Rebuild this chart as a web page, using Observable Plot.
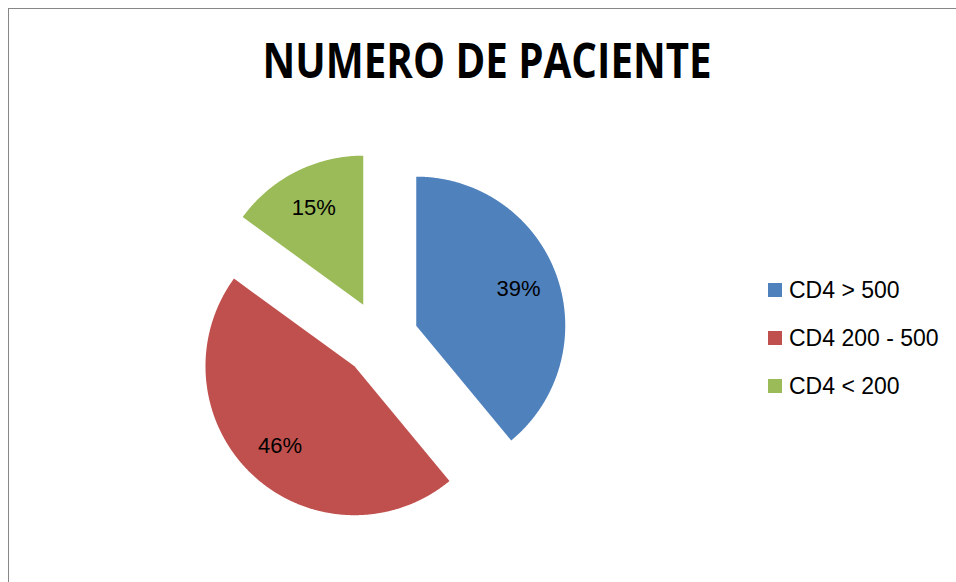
<!DOCTYPE html>
<html><head><meta charset="utf-8">
<script src="https://cdn.jsdelivr.net/npm/d3@7"></script>
<script src="https://cdn.jsdelivr.net/npm/@observablehq/plot@0.6"></script>
<style>
body{margin:0;background:#fff;}
#chart{position:relative;width:956px;height:582px;overflow:hidden;font-family:"Liberation Sans",Arial,sans-serif;background:#fff;}
#frame{position:absolute;left:8px;top:8px;width:1000px;height:1000px;border-left:1px solid #878787;border-top:1px solid #878787;}
#title{position:absolute;left:0;top:34.8px;width:974px;text-align:center;font-family:"Open Sans",sans-serif;font-size:49px;line-height:49px;font-weight:bold;color:#000;white-space:nowrap;}
#title span{display:inline-block;transform-origin:center;}
#plot{position:absolute;left:0;top:0;}
.leg-sw{position:absolute;width:14px;height:14px;}
.leg-tx{position:absolute;font-size:23px;line-height:23px;color:#000;white-space:nowrap;}
</style>
</head><body>
<div id="chart">
  <div id="frame"></div>
  <div id="plot"></div>
  <div id="title"><span></span></div>
  <div id="legend"></div>
</div>
<script>
const titleText = "NUMERO DE PACIENTE";
const categories = ["CD4 > 500", "CD4 200 - 500", "CD4 < 200"];
const values = [39, 46, 15];
const labels = ["39%", "46%", "15%"];
const colors = ["#4F81BD", "#C0504D", "#9BBB59"];

const tspan = document.querySelector("#title span");
tspan.textContent = titleText;
const natural = tspan.getBoundingClientRect().width;
tspan.style.transform = `scaleX(${449 / natural})`;

const explode = 0.255;   // fraction of radius
const labelPos = 0.73;   // fraction of radius from slice apex
const total = d3.sum(values);
let acc = 0;
const slices = categories.map((c, i) => {
  const a0 = acc / total * 2 * Math.PI;
  acc += values[i];
  const a1 = acc / total * 2 * Math.PI;
  const mid = (a0 + a1) / 2;
  return {c, a0, a1, mid, ox: explode * Math.sin(mid), oy: explode * Math.cos(mid), label: labels[i]};
});
const pts = slices.flatMap(s => {
  const n = Math.max(2, Math.ceil((s.a1 - s.a0) / 0.005));
  const arr = [{c: s.c, x: s.ox, y: s.oy}];
  for (let k = 0; k <= n; k++) {
    const a = s.a0 + (s.a1 - s.a0) * k / n;
    arr.push({c: s.c, x: s.ox + Math.sin(a), y: s.oy + Math.cos(a)});
  }
  arr.push({c: s.c, x: s.ox, y: s.oy});
  return arr;
});

const W = 956, H = 582, cx = 380, cy = 338, R = 149, D = 1.3;
const chart = Plot.plot({
  width: W, height: H,
  marginLeft: cx - D * R, marginRight: W - cx - D * R,
  marginTop: cy - D * R, marginBottom: H - cy - D * R,
  x: {domain: [-D, D], axis: null},
  y: {domain: [-D, D], axis: null},
  color: {domain: categories, range: colors},
  style: {fontFamily: "'Liberation Sans', Arial, sans-serif", background: "transparent", overflow: "visible"},
  marks: [
    Plot.line(pts, {x: "x", y: "y", z: "c", fill: "c", stroke: "none", curve: "linear"}),
    Plot.text(slices, {
      x: s => s.ox + labelPos * Math.sin(s.mid),
      y: s => s.oy + labelPos * Math.cos(s.mid),
      text: "label", fontSize: 22, fill: "#000"
    })
  ]
});
document.getElementById("plot").appendChild(chart);

const colorScale = chart.scale("color");
const legend = document.getElementById("legend");
categories.forEach((c, i) => {
  const top = 283 + i * 48;
  const sw = document.createElement("div");
  sw.className = "leg-sw";
  sw.style.left = "768px"; sw.style.top = top + "px";
  sw.style.background = colorScale.apply(c);
  legend.appendChild(sw);
  const tx = document.createElement("div");
  tx.className = "leg-tx";
  tx.style.left = "789px"; tx.style.top = (top - 4.5) + "px";
  tx.textContent = c;
  legend.appendChild(tx);
});
</script>
</body></html>
